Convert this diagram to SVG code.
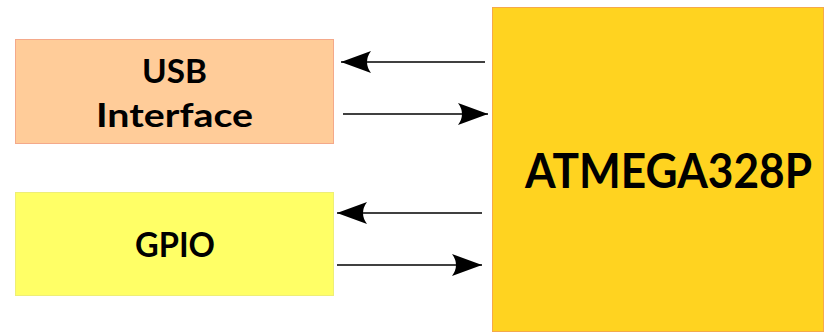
<svg xmlns="http://www.w3.org/2000/svg" width="824" height="332" viewBox="0 0 824 332">
  <style>
    .lbl { font-family: Lato, "DejaVu Sans", sans-serif; font-weight: bold; fill: #000; }
    .wire { stroke: #000; stroke-width: 1.5; fill: none; }
  </style>
  <defs>
    <marker id="head" viewBox="0 0 30 22" refX="30" refY="11" markerWidth="30" markerHeight="22" markerUnits="userSpaceOnUse" orient="auto-start-reverse">
      <path d="M0,0 L30,11 L0,22 Q8,11 0,0 Z" fill="#000"/>
    </marker>
  </defs>
  <rect width="824" height="332" fill="#fff"/>

  <g id="usb">
    <rect x="15.5" y="39.5" width="318" height="104" fill="#ffcc99" stroke="#f4a98a" stroke-width="1"/>
    <text class="lbl" x="142" y="83" font-size="33" textLength="65" lengthAdjust="spacingAndGlyphs">USB</text>
    <text class="lbl" x="96" y="127" font-size="33" textLength="157" lengthAdjust="spacingAndGlyphs">Interface</text>
  </g>

  <g id="gpio">
    <rect x="15.5" y="192.5" width="318" height="103" fill="#ffff66" stroke="#eeee77" stroke-width="1"/>
    <text class="lbl" x="135" y="257" font-size="34" textLength="80" lengthAdjust="spacingAndGlyphs">GPIO</text>
  </g>

  <g id="mcu">
    <rect x="492.5" y="7.5" width="331" height="324" fill="#ffd320" stroke="#f5a94a" stroke-width="1"/>
    <text class="lbl" transform="translate(525,188) scale(1,1.08)" x="0" y="0" font-size="44" textLength="287" lengthAdjust="spacingAndGlyphs">ATMEGA328P</text>
  </g>

  <g id="connectors">
    <line class="wire" x1="485" y1="62" x2="341" y2="62" marker-end="url(#head)"/>
    <line class="wire" x1="343" y1="114" x2="488" y2="114" marker-end="url(#head)"/>
    <line class="wire" x1="482" y1="213" x2="337" y2="213" marker-end="url(#head)"/>
    <line class="wire" x1="337" y1="265" x2="482" y2="265" marker-end="url(#head)"/>
  </g>
</svg>
